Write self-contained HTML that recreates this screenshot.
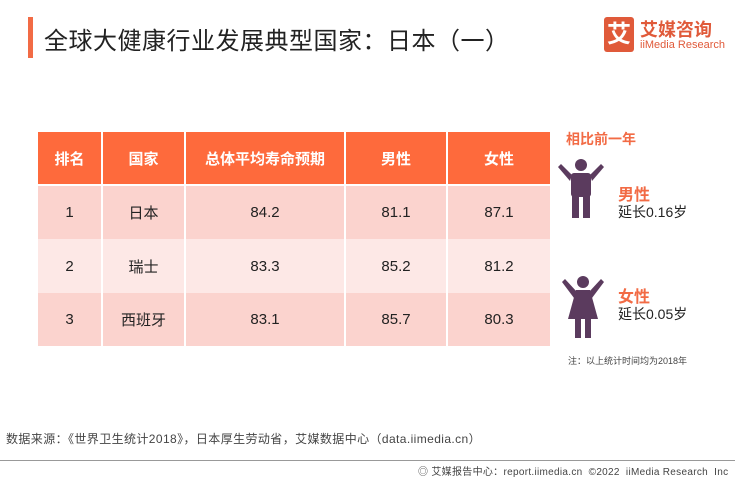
<!DOCTYPE html>
<html><head><meta charset="utf-8"><style>
body{margin:0;width:735px;height:477px;background:#fff;position:relative;overflow:hidden;font-family:"Liberation Sans","Noto Sans CJK SC",sans-serif;color:#222}
.a{position:absolute;white-space:nowrap}
table{position:absolute;left:38px;top:132px;border-collapse:collapse;table-layout:fixed}
td{text-align:center;font-size:15px;color:#222;border-left:2px solid #fff;padding:0}
td:first-child{border-left:none}
tr.h td{background:#fe6a3c;color:#fff;font-weight:bold;height:52px;font-size:15px;border-bottom:2px solid #fff}
tr.r1 td{background:#fbd3ce;height:53px}
tr.r2 td{background:#fde8e6;height:54px}
</style></head><body>
<div class="a" style="left:28px;top:17px;width:5px;height:41px;background:#f26b45"></div>
<div class="a" style="left:44px;top:21px;font-size:24px;color:#222;letter-spacing:0.5px">全球大健康行业发展典型国家：日本（一）</div>
<div class="a" style="left:604px;top:17px;width:30px;height:35px;background:#e05a3a;border-radius:3px;color:#fff;font-size:24px;font-weight:bold;text-align:center;line-height:35px">艾</div>
<div class="a" style="left:640px;top:16px;font-size:18px;font-weight:bold;color:#e05a3a">艾媒咨询</div>
<div class="a" style="left:640px;top:39px;font-size:11px;color:#e05a3a">iiMedia Research</div>
<table>
<colgroup><col style="width:64px"><col style="width:83px"><col style="width:160px"><col style="width:102px"><col style="width:103px"></colgroup>
<tr class="h"><td>排名</td><td>国家</td><td>总体平均寿命预期</td><td>男性</td><td>女性</td></tr>
<tr class="r1"><td>1</td><td>日本</td><td>84.2</td><td>81.1</td><td>87.1</td></tr>
<tr class="r2"><td>2</td><td>瑞士</td><td>83.3</td><td>85.2</td><td>81.2</td></tr>
<tr class="r1"><td>3</td><td>西班牙</td><td>83.1</td><td>85.7</td><td>80.3</td></tr>
</table>
<div class="a" style="left:566px;top:129px;font-size:14px;color:#f26b45;font-weight:bold">相比前一年</div>
<svg class="a" style="left:558px;top:158px" width="46" height="62" viewBox="0 0 46 62">
<g fill="#5b3b5e"><circle cx="23" cy="7" r="6"/><rect x="13" y="15" width="20" height="24" rx="3"/><rect x="14" y="36" width="7" height="24"/><rect x="25" y="36" width="7" height="24"/>
<path d="M14 17 L3 6 L0 9 L12 23Z"/><path d="M32 17 L43 6 L46 9 L34 23Z"/></g></svg>
<svg class="a" style="left:560px;top:275px" width="46" height="64" viewBox="0 0 46 64">
<g fill="#5b3b5e"><circle cx="23" cy="7" r="6"/><path d="M16 15 H30 L38 44 H8Z"/><rect x="15" y="42" width="6" height="21"/><rect x="25" y="42" width="6" height="21"/>
<path d="M17 17 L5 4 L2 7 L14 23Z"/><path d="M29 17 L41 4 L44 7 L32 23Z"/></g></svg>
<div class="a" style="left:618px;top:181px;font-size:16px;font-weight:bold;color:#f26b45">男性</div>
<div class="a" style="left:618px;top:202px;font-size:14px">延长0.16岁</div>
<div class="a" style="left:618px;top:283px;font-size:16px;font-weight:bold;color:#f26b45">女性</div>
<div class="a" style="left:618px;top:304px;font-size:14px">延长0.05岁</div>
<div class="a" style="left:568px;top:354px;font-size:9px;color:#444">注：以上统计时间均为2018年</div>
<div class="a" style="left:6px;top:430px;font-size:12px;color:#444;letter-spacing:0.4px">数据来源：《世界卫生统计2018》，日本厚生劳动省，艾媒数据中心（data.iimedia.cn）</div>
<div class="a" style="left:0;top:460px;width:735px;height:1px;background:#999"></div>
<div class="a" style="left:418px;top:463px;font-size:10px;color:#444;letter-spacing:0.3px">◎ 艾媒报告中心：report.iimedia.cn &nbsp;©2022 &nbsp;iiMedia Research &nbsp;Inc</div>
</body></html>
